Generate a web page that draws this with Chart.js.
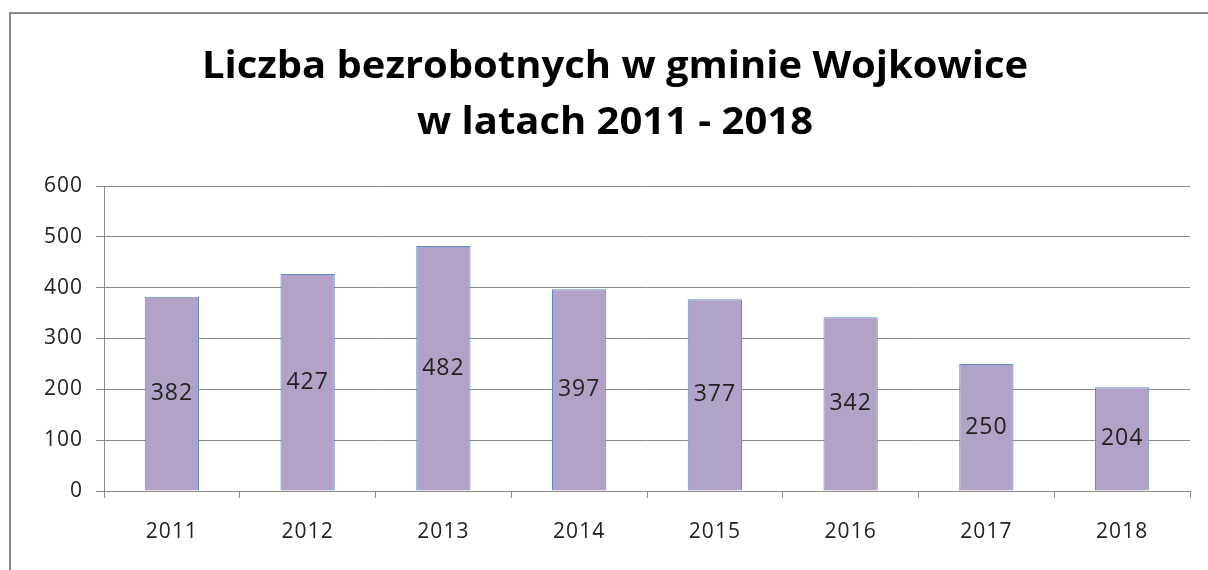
<!DOCTYPE html>
<html>
<head>
<meta charset="utf-8">
<script src="https://cdn.jsdelivr.net/npm/chart.js@4"></script>
<style>
  html, body { margin: 0; padding: 0; background: #fff; }
  #wrap { position: relative; width: 1208px; height: 570px; overflow: hidden; }
  #frame { position: absolute; left: 9px; top: 12px; width: 1300px; height: 700px; border-left: 2px solid #8a8a8a; border-top: 2px solid #8a8a8a; }
  canvas { position: absolute; left: 0; top: 0; }
</style>
</head>
<body>
<div id="wrap">
  <div id="frame"></div>
  <canvas id="chart" width="1208" height="570"></canvas>
</div>
<script>
const years = ['2011', '2012', '2013', '2014', '2015', '2016', '2017', '2018'];
const unemployed = [382, 427, 482, 397, 377, 342, 250, 204];
const titleLines = ['Liczba bezrobotnych w gminie Wojkowice', 'w latach 2011 - 2018'];

const fontFamily = '"Open Sans", "Noto Sans", sans-serif';

// a little extra glyph spacing for axis text (reference looks stretched)
const spacing = {
  id: 'spacing',
  beforeDraw(chart) { chart.ctx.letterSpacing = '1px'; }
};

// two-line title, drawn above the plot, stretched a bit horizontally
const titleText = {
  id: 'titleText',
  afterDraw(chart) {
    const ctx = chart.ctx;
    const cx = 615;
    const sx = 1.08;
    ctx.save();
    ctx.letterSpacing = '0px';
    ctx.font = 'bold 37px ' + fontFamily;
    ctx.fillStyle = '#000';
    ctx.textAlign = 'center';
    ctx.textBaseline = 'alphabetic';
    ctx.translate(cx, 0);
    ctx.scale(sx, 1);
    ctx.fillText(titleLines[0], 0, 78);
    ctx.fillText(titleLines[1], 0, 134);
    ctx.restore();
  }
};

// write the value in the middle of each bar
const barLabels = {
  id: 'barLabels',
  afterDatasetsDraw(chart) {
    const ctx = chart.ctx;
    const meta = chart.getDatasetMeta(0);
    ctx.save();
    ctx.font = '23px ' + fontFamily;
    ctx.letterSpacing = '1px';
    ctx.fillStyle = '#222';
    ctx.textAlign = 'center';
    ctx.textBaseline = 'middle';
    meta.data.forEach((bar, i) => {
      ctx.fillText(String(unemployed[i]), bar.x, (bar.y + bar.base) / 2);
    });
    ctx.restore();
  }
};

new Chart(document.getElementById('chart').getContext('2d'), {
  type: 'bar',
  data: {
    labels: years,
    datasets: [{
      data: unemployed,
      backgroundColor: '#b2a2c8',
      borderColor: '#5b8ccb',
      borderWidth: 1,
      categoryPercentage: 1,
      barPercentage: 0.4
    }]
  },
  plugins: [spacing, titleText, barLabels],
  options: {
    responsive: false,
    animation: false,
    layout: { padding: { left: 0, right: 18, top: 186, bottom: 0 } },
    plugins: {
      legend: { display: false },
      tooltip: { enabled: false },
      title: { display: false }
    },
    scales: {
      x: {
        grid: { drawOnChartArea: false, drawTicks: true, tickLength: 7, color: '#8a8a8a' },
        border: { display: true, color: '#8a8a8a' },
        ticks: { color: '#222', font: { family: fontFamily, size: 21 }, padding: 21 },
        afterFit(scale) { scale.height = 79; }
      },
      y: {
        min: 0,
        max: 600,
        ticks: { stepSize: 100, color: '#222', font: { family: fontFamily, size: 21 }, padding: 13 },
        grid: { color: '#8a8a8a', tickLength: 8 },
        border: { display: true, color: '#8a8a8a' },
        afterFit(scale) { scale.width = 104; }
      }
    }
  }
});
</script>
</body>
</html>
